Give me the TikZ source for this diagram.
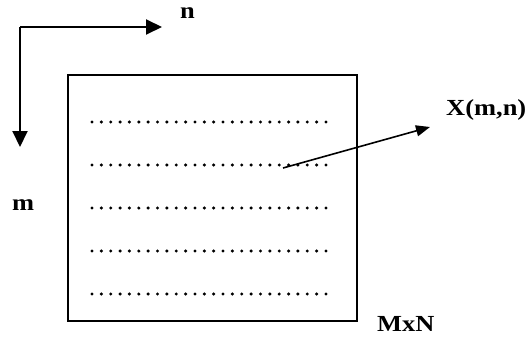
\documentclass[tikz,border=0pt]{standalone}
\usepackage{fontspec}
\setmainfont{Liberation Serif}[FakeStretch=1.15]
\usetikzlibrary{arrows.meta}
\begin{document}
\begin{tikzpicture}[x=1pt,y=-1pt,
  lbl/.style={font=\fontsize{23}{26}\selectfont\bfseries, inner sep=0pt, anchor=base west},
  axis/.style={line width=2pt, -{Triangle[length=16pt,width=15pt]}},
  ptr/.style={line width=1.6pt, -{Triangle[length=14pt,width=11pt]}},
  frame/.style={draw, line width=2pt, inner sep=0pt, minimum width=289pt, minimum height=246pt}]
\useasboundingbox (0,0) rectangle (528,340);
\coordinate (corner) at (20,27);
\coordinate (ntip) at (162,27);
\coordinate (mtip) at (20,147);
\draw[axis] (corner) -- (ntip);
\draw[axis] (corner) -- (mtip);
\node[lbl] (n) at (180,18) {n};
\node[lbl] (m) at (12,210) {m};
\node[frame] (mat) at (212.5,198) {};
\foreach \r in {0,...,4}{
  \foreach \c in {0,...,25}{
    \fill ({92+\c*9.36},{122+\r*43}) circle (1.7pt);
  }
}
\coordinate (elem) at (283,168);
\node[lbl] (X) at (446,115) {X(m,n)};
\coordinate (xtip) at (430,127);
\draw[ptr] (elem) -- (xtip);
\node[lbl] (MN) at (377,331) {MxN};
\end{tikzpicture}
\end{document}
